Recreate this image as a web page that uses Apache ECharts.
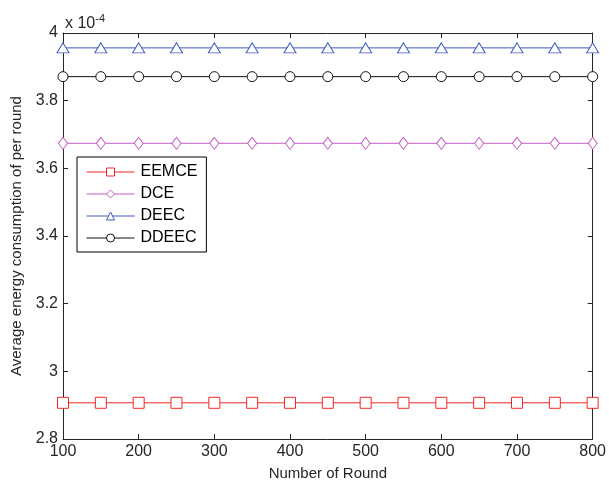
<!DOCTYPE html>
<html>
<head>
<meta charset="utf-8">
<script src="https://cdn.jsdelivr.net/npm/echarts@6/dist/echarts.min.js"></script>
<style>html,body{margin:0;padding:0;background:#fff;}#c{width:609px;height:486px;}</style>
</head>
<body>
<div id="c"></div>
<script>
// values in units of 1e-4
var rounds = [100,150,200,250,300,350,400,450,500,550,600,650,700,750,800];
var eemce = [2.907,2.907,2.907,2.907,2.907,2.907,2.907,2.907,2.907,2.907,2.907,2.907,2.907,2.907,2.907];
var dce   = [3.674,3.674,3.674,3.674,3.674,3.674,3.674,3.674,3.674,3.674,3.674,3.674,3.674,3.674,3.674];
var deec  = [3.956,3.956,3.956,3.956,3.956,3.956,3.956,3.956,3.956,3.956,3.956,3.956,3.956,3.956,3.956];
var ddeec = [3.871,3.871,3.871,3.871,3.871,3.871,3.871,3.871,3.871,3.871,3.871,3.871,3.871,3.871,3.871];
var seriesNames = ['EEMCE','DCE','DEEC','DDEEC'];

function pairs(v){ return rounds.map(function(r,i){ return [r, v[i]]; }); }

var FONT = 'Liberation Sans, Arial, sans-serif';
var AX = '#262626';
var chart = echarts.init(document.getElementById('c'), null, {renderer:'canvas'});

function mk(name, data, color, symbol, size){
  return {
    name: name, type: 'line', data: pairs(data),
    symbol: symbol, symbolSize: size,
    showAllSymbol: true,
    lineStyle: {color: color, width: 1},
    itemStyle: {color: '#fff', borderColor: color, borderWidth: 1},
    emphasis: {disabled: true},
    animation: false
  };
}

var option = {
  backgroundColor: '#fff',
  animation: false,
  title: {
    text: 'x 10{s|-4}',
    left: 60, top: 8,
    textStyle: {fontFamily: FONT, fontSize: 16, fontWeight: 'normal', color: AX,
      rich: {s: {fontFamily: FONT, fontSize: 11, color: AX, verticalAlign: 'top', padding: [0,0,10,0]}}}
  },
  legend: {
    orient: 'vertical', left: 77, top: 157,
    data: seriesNames,
    itemWidth: 48, itemHeight: 10, itemGap: 6,
    padding: [7, 9, 6, 9],
    borderColor: '#000', borderWidth: 1,
    backgroundColor: '#fff',
    itemStyle: {borderWidth: 1},
    lineStyle: {width: 1},
    textStyle: {fontFamily: FONT, fontSize: 16, color: '#000', padding: [0,0,0,1]}
  },
  grid: {left: 63, right: 13, top: 33, bottom: 47, containLabel: false},
  xAxis: [{
    type: 'value', min: 100, max: 800, interval: 100,
    name: 'Number of Round', nameLocation: 'middle', nameGap: 27,
    nameTextStyle: {fontFamily: FONT, fontSize: 15, color: AX},
    axisLine: {show: true, lineStyle: {color: AX, width: 1}},
    axisTick: {show: true, inside: true, length: 5, lineStyle: {color: AX}},
    axisLabel: {fontFamily: FONT, fontSize: 16, color: AX, margin: 5},
    splitLine: {show: false}
  },{
    type: 'value', min: 100, max: 800, interval: 100, position: 'top',
    axisLine: {show: true, lineStyle: {color: AX, width: 1}},
    axisTick: {show: true, inside: true, length: 5, lineStyle: {color: AX}},
    axisLabel: {show: false}, splitLine: {show: false}
  }],
  yAxis: [{
    type: 'value', min: 2.8, max: 4, interval: 0.2,
    name: 'Average energy consumption of per round', nameLocation: 'middle', nameGap: 38,
    nameTextStyle: {fontFamily: FONT, fontSize: 15, color: AX},
    axisLine: {show: true, lineStyle: {color: AX, width: 1}},
    axisTick: {show: true, inside: true, length: 5, lineStyle: {color: AX}},
    axisLabel: {fontFamily: FONT, fontSize: 16, color: AX, margin: 5,
      formatter: function(v){ return String(Math.round(v*10)/10); }},
    splitLine: {show: false}
  },{
    type: 'value', min: 2.8, max: 4, interval: 0.2, position: 'right',
    axisLine: {show: true, lineStyle: {color: AX, width: 1}},
    axisTick: {show: true, inside: true, length: 5, lineStyle: {color: AX}},
    axisLabel: {show: false}, splitLine: {show: false}
  }],
  series: [
    mk('EEMCE', eemce, '#f02828', 'rect', 11),
    mk('DCE', dce, '#c35ec3', 'diamond', [9, 12]),
    mk('DEEC', deec, '#3c5cbc', 'triangle', [12, 10]),
    mk('DDEEC', ddeec, '#111111', 'circle', 10)
  ]
};
chart.setOption(option);
</script>
</body>
</html>
